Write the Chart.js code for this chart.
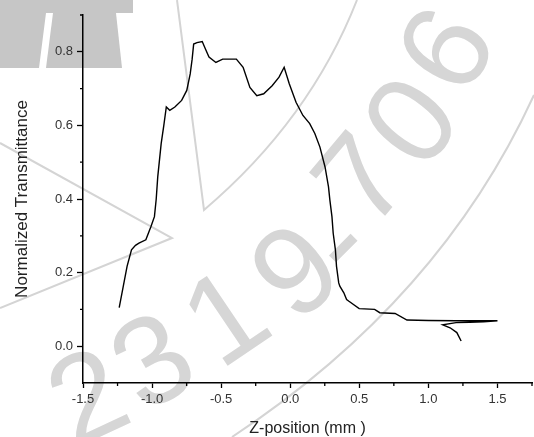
<!DOCTYPE html>
<html>
<head>
<meta charset="utf-8">
<script src="https://cdn.jsdelivr.net/npm/chart.js@4"></script>
<style>
  html, body { margin: 0; padding: 0; background: #fff; }
  #wrap { width: 534px; height: 437px; }
</style>
</head>
<body>
<div id="wrap"><canvas id="zscan"></canvas></div>
<script>
// z-scan trace, in the order it was recorded (the end folds back on itself)
const zPos = [
  -1.238, -1.21, -1.181, -1.149, -1.12, -1.095, -1.045, -1.008, -0.983, -0.97,
  -0.959, -0.934, -0.915, -0.897, -0.872, -0.835, -0.786, -0.749, -0.724, -0.71,
  -0.699, -0.675, -0.637, -0.613, -0.588, -0.538, -0.489, -0.39, -0.341, -0.292,
  -0.242, -0.192, -0.131, -0.081, -0.044, -0.007, 0.042, 0.092, 0.141, 0.178,
  0.215, 0.252, 0.277, 0.287, 0.302, 0.311, 0.327, 0.335, 0.351, 0.359,
  0.388, 0.408, 0.425, 0.499, 0.611, 0.648, 0.759, 0.845, 1.0, 1.2,
  1.35, 1.5, 1.4, 1.3, 1.2, 1.104, 1.157, 1.206, 1.237
];
const transmittance = [
  0.105, 0.16, 0.217, 0.262, 0.274, 0.28, 0.289, 0.325, 0.352, 0.40,
  0.46, 0.551, 0.60, 0.65, 0.641, 0.65, 0.668, 0.695, 0.74, 0.78,
  0.821, 0.825, 0.828, 0.807, 0.786, 0.771, 0.78, 0.78, 0.758, 0.703,
  0.681, 0.686, 0.708, 0.731, 0.758, 0.713, 0.663, 0.627, 0.605, 0.578,
  0.541, 0.487, 0.433, 0.397, 0.352, 0.307, 0.262, 0.217, 0.172, 0.163,
  0.145, 0.127, 0.122, 0.102, 0.10, 0.091, 0.089, 0.071, 0.07, 0.069,
  0.069, 0.069, 0.066, 0.065, 0.064, 0.058, 0.05, 0.037, 0.014
];

const xTicks = [-1.5, -1.0, -0.5, 0.0, 0.5, 1.0, 1.5];
const xMinor = [-1.25, -0.75, -0.25, 0.25, 0.75, 1.25, 1.75];
const yTicks = [0.0, 0.2, 0.4, 0.6, 0.8];
const yMinor = [0.1, 0.3, 0.5, 0.7, 0.9];

const watermarkChars = ['2', '3', '1', '9', '-', '7', '0', '6'];

const points = zPos.map((z, i) => ({ x: z, y: transmittance[i] }));

// faint journal watermark behind the plot
const watermark = {
  id: 'watermark',
  beforeDraw(chart) {
    const ctx = chart.ctx;
    ctx.save();
    ctx.fillStyle = '#fff';
    ctx.fillRect(0, 0, chart.width, chart.height);

    ctx.fillStyle = '#c6c6c6';
    ctx.beginPath();
    ctx.moveTo(0, 0); ctx.lineTo(133, 0); ctx.lineTo(133, 13); ctx.lineTo(46, 13);
    ctx.lineTo(39, 68); ctx.lineTo(0, 68); ctx.closePath();
    ctx.fill();
    ctx.beginPath();
    ctx.moveTo(53, 13); ctx.lineTo(116, 13); ctx.lineTo(122, 68); ctx.lineTo(46, 68);
    ctx.closePath();
    ctx.fill();

    ctx.strokeStyle = '#d4d4d4';
    ctx.lineWidth = 2;
    ctx.beginPath();
    ctx.moveTo(0, 143); ctx.lineTo(172, 238); ctx.lineTo(0, 308);
    ctx.moveTo(177, 0); ctx.lineTo(204, 210);
    ctx.quadraticCurveTo(310, 120, 357, 0);
    ctx.moveTo(534, 95);
    ctx.quadraticCurveTo(440, 300, 232, 437);
    ctx.stroke();

    const spots = [
      [88, 398, -25], [153, 362, -30], [226, 318, -34], [296, 272, -40],
      [338, 243, -45], [362, 180, -50], [412, 122, -52], [447, 50, -60]
    ];
    ctx.fillStyle = '#d6d6d6';
    ctx.font = '125px "Liberation Sans", Arial, sans-serif';
    ctx.textAlign = 'center';
    ctx.textBaseline = 'middle';
    watermarkChars.forEach((c, i) => {
      const [x, y, a] = spots[i];
      ctx.save();
      ctx.translate(x, y);
      ctx.rotate(a * Math.PI / 180);
      ctx.fillText(c, 0, 6);
      ctx.restore();
    });
    ctx.restore();
  }
};

// short unlabelled ticks between the major ones
const minorTicks = {
  id: 'minorTicks',
  afterDraw(chart) {
    const ctx = chart.ctx;
    const xs = chart.scales.x, ys = chart.scales.y;
    ctx.save();
    ctx.strokeStyle = '#000';
    ctx.lineWidth = 1.3;
    ctx.beginPath();
    xMinor.forEach(v => {
      const px = xs.getPixelForValue(v);
      ctx.moveTo(px, xs.top); ctx.lineTo(px, xs.top + 3);
    });
    yMinor.forEach(v => {
      const py = ys.getPixelForValue(v);
      ctx.moveTo(ys.right, py); ctx.lineTo(ys.right - 3, py);
    });
    ctx.stroke();
    ctx.restore();
  }
};

const tickFont = { family: '"Liberation Sans", Arial, sans-serif', size: 13 };

new Chart(document.getElementById('zscan'), {
  type: 'scatter',
  data: {
    datasets: [{
      data: points,
      showLine: true,
      borderColor: '#000',
      borderWidth: 1.4,
      pointRadius: 0,
      tension: 0
    }]
  },
  options: {
    responsive: true,
    maintainAspectRatio: false,
    animation: false,
    layout: { padding: { left: 0, right: 2, top: 15, bottom: 0 } },
    plugins: { legend: { display: false }, tooltip: { enabled: false } },
    scales: {
      x: {
        type: 'linear',
        min: -1.5,
        max: 1.75,
        afterBuildTicks: s => { s.ticks = xTicks.map(v => ({ value: v })); },
        afterFit: s => { s.height = 54; },
        ticks: {
          color: '#333',
          font: tickFont,
          padding: 4,
          maxRotation: 0,
          autoSkip: false,
          callback: v => v.toFixed(1)
        },
        grid: { drawOnChartArea: false, drawTicks: true, tickLength: 5, tickColor: '#000', tickWidth: 1.3 },
        border: { display: true, color: '#000', width: 1.5 },
        title: {
          display: true,
          text: 'Z-position (mm )',
          color: '#222',
          font: { family: '"Liberation Sans", Arial, sans-serif', size: 16, lineHeight: 1 },
          padding: { top: 0, bottom: 0 }
        }
      },
      y: {
        type: 'linear',
        min: -0.1,
        max: 0.9,
        afterBuildTicks: s => { s.ticks = yTicks.map(v => ({ value: v })); },
        afterFit: s => { s.width = 83; },
        ticks: {
          color: '#333',
          font: tickFont,
          padding: 4,
          autoSkip: false,
          callback: v => v.toFixed(1)
        },
        grid: { drawOnChartArea: false, drawTicks: true, tickLength: 6, tickColor: '#000', tickWidth: 1.3 },
        border: { display: true, color: '#000', width: 1.5 },
        title: {
          display: true,
          text: 'Normalized Transmittance',
          color: '#222',
          font: { family: '"Liberation Sans", Arial, sans-serif', size: 17 },
          padding: { top: 12, bottom: 0 }
        }
      }
    }
  },
  plugins: [watermark, minorTicks]
});
</script>
</body>
</html>
